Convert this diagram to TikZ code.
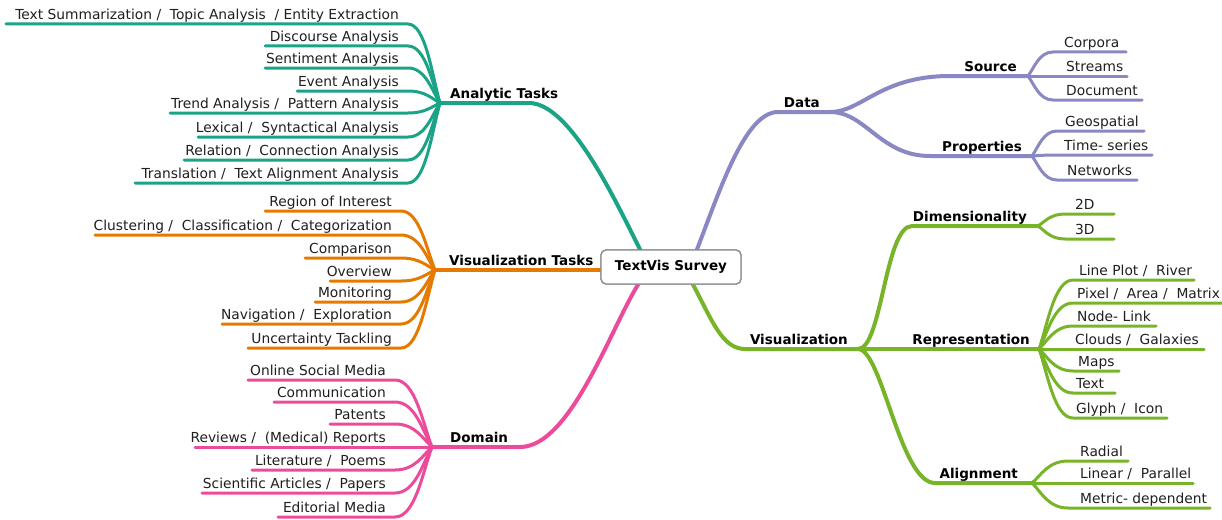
\documentclass[tikz,border=0pt]{standalone}
\usepackage{fontspec}
\setmainfont{DejaVu Sans}
\definecolor{cteal}{HTML}{1AA386}
\definecolor{corange}{HTML}{E67A00}
\definecolor{cpink}{HTML}{EC4A9A}
\definecolor{cpurple}{HTML}{8A88C4}
\definecolor{cgreen}{HTML}{78B428}
\tikzset{
  leaftext/.style={inner sep=0pt, font=\fontsize{13.8}{16}\selectfont, text=black!88},
  boldtext/.style={inner sep=0pt, font=\fontsize{13.5}{16}\selectfont\bfseries, text=black},
  leafline/.style={line width=3pt, line cap=round},
  mainline/.style={line width=4pt, line cap=round},
  rootbox/.style={draw=black!45, line width=1.3pt, fill=white, rounded corners=5pt,
    minimum width=140pt, minimum height=34pt, inner sep=0pt,
    font=\fontsize{13.5}{16}\selectfont\bfseries}
}
% group: junction name, x, y, colour
\newcommand\grp[4]{\def\jn{#1}\def\jx{#2}\def\jy{#3}\def\cc{#4}\coordinate (#1) at (#2,#3);}
% left leaf: name, text, line y, line start x, line end x
\newcommand\leafL[5]{%
  \node[leaftext, anchor=base east] (#1) at ({#5-9},{#3-4.5}) {#2};
  \coordinate (#1s) at (#4,#3);
  \coordinate (#1e) at (#5,#3);
  \draw[leafline, draw=\cc] (#1s) -- (#1e) .. controls ({#5+0.55*(\jx-#5)},#3) and ({\jx-0.25*(\jx-#5)},{\jy+0.35*(#3-\jy)}) .. (\jn);
}
% right leaf: name, text, line y, line start x, line end x, text x
\newcommand\leafR[6]{%
  \node[leaftext, anchor=base west] (#1) at (#6,{#3-4.5}) {#2};
  \coordinate (#1s) at (#4,#3);
  \coordinate (#1e) at (#5,#3);
  \draw[leafline, draw=\cc] (\jn) .. controls ({\jx+0.25*(#4-\jx)},{\jy+0.35*(#3-\jy)}) and ({#4-0.55*(#4-\jx)},#3) .. (#1s) -- (#1e);
}
\begin{document}
\begin{tikzpicture}[x=1pt,y=-1pt]
\useasboundingbox (0,0) rectangle (1222,519);

% ---------- Analytic Tasks ----------
\grp{aT}{440}{103}{cteal}
\leafL{at1}{Text Summarization /\ \ Topic Analysis\ \ / Entity Extraction}{24}{6}{408}
\leafL{at2}{Discourse Analysis}{46}{265}{408}
\leafL{at3}{Sentiment Analysis}{68}{265}{408}
\leafL{at4}{Event Analysis}{91}{297}{408}
\leafL{at5}{Trend Analysis /\ \ Pattern Analysis}{113}{170}{408}
\leafL{at6}{Lexical /\ \ Syntactical Analysis}{137}{198}{408}
\leafL{at7}{Relation /\ \ Connection Analysis}{160}{184}{408}
\leafL{at8}{Translation /\ \ Text Alignment Analysis}{183}{135}{408}

% ---------- Visualization Tasks ----------
\grp{vT}{435}{270}{corange}
\leafL{vt1}{Region of Interest}{211}{265}{401}
\leafL{vt2}{Clustering /\ \ Classification /\ \ Categorization}{235}{95}{401}
\leafL{vt3}{Comparison}{258}{305}{401}
\leafL{vt4}{Overview}{281}{330}{401}
\leafL{vt5}{Monitoring}{302}{315}{401}
\leafL{vt6}{Navigation /\ \ Exploration}{324}{222}{401}
\leafL{vt7}{Uncertainty Tackling}{348}{248}{401}

% ---------- Domain ----------
\grp{dm}{432}{447}{cpink}
\leafL{dm1}{Online Social Media}{380}{248}{395}
\leafL{dm2}{Communication}{402}{274}{395}
\leafL{dm3}{Patents}{424}{330}{395}
\leafL{dm4}{Reviews /\ \ (Medical) Reports}{447}{195}{395}
\leafL{dm5}{Literature /\ \ Poems}{470}{252}{395}
\leafL{dm6}{Scientific Articles /\ \ Papers}{493}{202}{395}
\leafL{dm7}{Editorial Media}{517}{278}{395}

% ---------- Source ----------
\grp{src}{1028}{76}{cpurple}
\leafR{s1}{Corpora}{52}{1053}{1126}{1064}
\leafR{s2}{Streams}{76}{1053}{1127}{1066}
\leafR{s3}{Document}{100}{1053}{1142}{1066}

% ---------- Properties ----------
\grp{prp}{1032}{156}{cpurple}
\leafR{p1}{Geospatial}{131}{1057}{1144}{1065}
\leafR{p2}{Time- series}{155}{1057}{1152}{1064}
\leafR{p3}{Networks}{180}{1057}{1137}{1067}

% ---------- Dimensionality ----------
\grp{dim}{1038}{226}{cgreen}
\leafR{d1}{2D}{214}{1065}{1114}{1075}
\leafR{d2}{3D}{239}{1065}{1114}{1075}

% ---------- Representation ----------
\grp{rep}{1039}{349}{cgreen}
\leafR{r1}{Line Plot /\ \ River}{280}{1073}{1194}{1079}
\leafR{r2}{Pixel /\ \ Area /\ \ Matrix}{303}{1073}{1222}{1077}
\leafR{r3}{Node- Link}{326}{1073}{1156}{1077}
\leafR{r4}{Clouds /\ \ Galaxies}{349}{1073}{1204}{1075}
\leafR{r5}{Maps}{371}{1073}{1119}{1078}
\leafR{r6}{Text}{393}{1073}{1115}{1076}
\leafR{r7}{Glyph /\ \ Icon}{418}{1073}{1167}{1076}

% ---------- Alignment ----------
\grp{aln}{1032}{483}{cgreen}
\leafR{l1}{Radial}{461}{1068}{1128}{1080}
\leafR{l2}{Linear /\ \ Parallel}{483}{1068}{1193}{1080}
\leafR{l3}{Metric- dependent}{508}{1068}{1210}{1080}

% ---------- root ----------
\node[rootbox] (root) at (671,267) {TextVis Survey};

% ---------- main branch coordinates ----------
\coordinate (aT2) at (529,103);
\coordinate (dm2) at (520,447);
\coordinate (data1) at (778,112);
\coordinate (data) at (830,112);
\coordinate (src1) at (950,76);
\coordinate (prp1) at (930,156);
\coordinate (vis1) at (745,349);
\coordinate (vis) at (858,349);
\coordinate (dim1) at (912,226);
\coordinate (aln1) at (935,483);
\coordinate (rT) at ([xshift=-31pt]root.north);
\coordinate (rP) at ([xshift=26pt]root.north);
\coordinate (rK) at ([xshift=-33pt]root.south);
\coordinate (rG) at ([xshift=22pt]root.south);
\coordinate (rW) at (root.west |- vT);

\draw[mainline, cteal] (rT) .. controls (615,200) and (570,103) .. (aT2) -- (aT);
\draw[mainline, corange] (rW) -- (vT);
\draw[mainline, cpink] (rK) .. controls (610,330) and (570,447) .. (dm2) -- (dm);
\draw[mainline, cpurple] (rP) .. controls (720,190) and (745,112) .. (data1) -- (data);
\draw[mainline, cpurple] (data) .. controls (862,112) and (880,76) .. (src1) -- (src);
\draw[mainline, cpurple] (data) .. controls (866,112) and (880,156) .. (prp1) -- (prp);
\draw[mainline, cgreen] (rG) .. controls (712,320) and (722,349) .. (vis1) -- (vis);
\draw[mainline, cgreen] (vis) .. controls (882,349) and (885,226) .. (dim1) -- (dim);
\draw[mainline, cgreen] (vis) -- (rep);
\draw[mainline, cgreen] (vis) .. controls (882,349) and (900,483) .. (aln1) -- (aln);

% redraw root on top
\node[rootbox] (rootTop) at (root) {TextVis Survey};

% ---------- branch labels ----------
\node[boldtext, anchor=base west] (lAT) at (450,98.5) {Analytic Tasks};
\node[boldtext, anchor=base west] (lVT) at (449,265.5) {Visualization Tasks};
\node[boldtext, anchor=base west] (lDM) at (450,442.5) {Domain};
\node[boldtext, anchor=base east] (lDA) at (820,107.5) {Data};
\node[boldtext, anchor=base east] (lSR) at (1017,71.5) {Source};
\node[boldtext, anchor=base east] (lPR) at (1022,151.5) {Properties};
\node[boldtext, anchor=base east] (lVI) at (848,344.5) {Visualization};
\node[boldtext, anchor=base east] (lDI) at (1027,221.5) {Dimensionality};
\node[boldtext, anchor=base east] (lRE) at (1030,344.5) {Representation};
\node[boldtext, anchor=base east] (lAL) at (1018,478.5) {Alignment};
\end{tikzpicture}
\end{document}
